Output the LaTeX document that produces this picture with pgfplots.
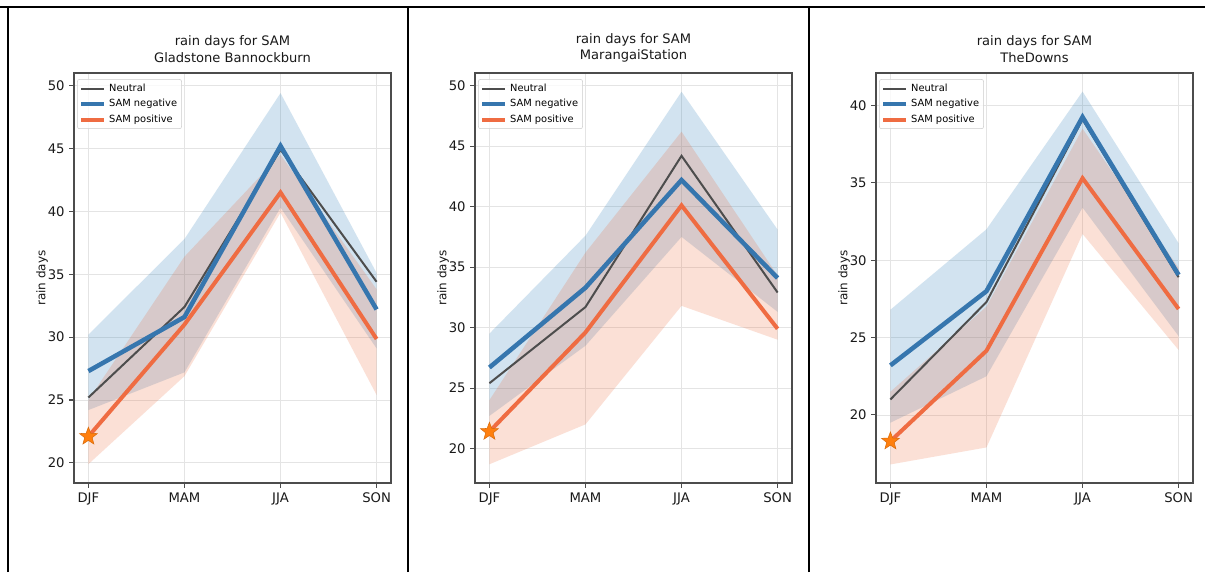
\documentclass[border=0pt]{standalone}
\usepackage{fontspec}
\setmainfont{DejaVu Sans}
\usepackage{pgfplots}
\pgfplotsset{compat=1.18}
\definecolor{negc}{HTML}{3676AE}
\definecolor{posc}{HTML}{EF6C42}
\definecolor{neuc}{HTML}{4D4D4D}
\definecolor{negband}{HTML}{1F77B4}
\definecolor{posband}{HTML}{EB6432}
\definecolor{starc}{HTML}{FF7F0E}
\definecolor{gridc}{HTML}{E4E4E4}
\pgfdeclareplotmark{fstar}{%
\pgfpathmoveto{\pgfpointpolar{90}{\pgfplotmarksize}}%
\pgfpathlineto{\pgfpointpolar{126}{0.42\pgfplotmarksize}}%
\pgfpathlineto{\pgfpointpolar{162}{\pgfplotmarksize}}%
\pgfpathlineto{\pgfpointpolar{198}{0.42\pgfplotmarksize}}%
\pgfpathlineto{\pgfpointpolar{234}{\pgfplotmarksize}}%
\pgfpathlineto{\pgfpointpolar{270}{0.42\pgfplotmarksize}}%
\pgfpathlineto{\pgfpointpolar{306}{\pgfplotmarksize}}%
\pgfpathlineto{\pgfpointpolar{342}{0.42\pgfplotmarksize}}%
\pgfpathlineto{\pgfpointpolar{18}{\pgfplotmarksize}}%
\pgfpathlineto{\pgfpointpolar{54}{0.42\pgfplotmarksize}}%
\pgfpathclose
\pgfusepathqfillstroke}
\pgfplotsset{
  panel/.style={
    at={#1}, anchor=south west, scale only axis,
    width=237.75pt, height=307.5pt,
    xmin=-0.15, xmax=3.15,
    xtick={0,1,2,3}, xticklabels={DJF,MAM,JJA,SON},
    grid=major, major grid style={draw=gridc, line width=0.6pt},
    axis line style={draw=black!70, line width=0.8pt},
    tick align=outside, major tick length=3.5pt,
    xtick pos=bottom, ytick pos=left,
    tick style={draw=black!70, line width=0.8pt},
    ticklabel style={font=\fontsize{9.9}{11}\selectfont, text=black!90},
    /pgf/number format/assume math mode=true,
    ylabel={rain days},
    ylabel style={font=\fontsize{9}{10}\selectfont, text=black!90, at={(axis description cs:-0.101,0.5)}, anchor=center},
    title style={font=\fontsize{9.8}{12.2}\selectfont, text=black!90, align=center, yshift=-1.5pt},
    legend cell align=left,
    legend style={at={(0.01,0.985)}, anchor=north west, draw=black!20, rounded corners=1.5pt,
      fill=white, fill opacity=0.8, text opacity=1, font=\fontsize{7.4}{8.4}\selectfont,
      inner sep=1.3pt, row sep=0.5pt},
  },
  negband/.style={draw=none, fill=negband, fill opacity=0.2, forget plot},
  posband/.style={draw=none, fill=posband, fill opacity=0.2, forget plot},
  neul/.style={neuc, line width=1.5pt, no markers},
  negl/.style={negc, line width=3.4pt, no markers},
  posl/.style={posc, line width=3.0pt, no markers},
  starm/.style={only marks, mark=fstar, mark size=7pt, mark options={draw=starc!85!black, fill=starc, line width=0.4pt}, forget plot},
}
\begin{document}
\begin{tikzpicture}
\useasboundingbox (0,0) rectangle (903.75pt,429pt);
\fill[white] (0,0) rectangle (903.75pt,429pt);
\draw[line width=0.9pt] (0,423.75pt) -- (903.75pt,423.75pt);
\draw[line width=0.9pt] (6pt,0) -- (6pt,423.75pt);
\draw[line width=0.9pt] (306pt,0) -- (306pt,423.75pt);
\draw[line width=0.9pt] (606.75pt,0) -- (606.75pt,423.75pt);

% Panel 1
\begin{axis}[panel={(55.5pt,66.75pt)}, ymin=18.4, ymax=51.0,
  ytick={20,25,30,35,40,45,50},
  title={rain days for SAM\\Gladstone Bannockburn}]
\addplot[negband] coordinates {(0,30.2)(1,37.8)(2,49.4)(3,35.1)(3,29.1)(2,40.3)(1,27.2)(0,24.2)} -- cycle;
\addplot[posband] coordinates {(0,25.0)(1,36.4)(2,44.5)(3,33.8)(3,25.4)(2,39.9)(1,26.9)(0,19.9)} -- cycle;
\addplot[neul] coordinates {(0,25.2)(1,32.4)(2,44.9)(3,34.4)};
\addlegendentry{Neutral}
\addplot[negl] coordinates {(0,27.3)(1,31.6)(2,45.2)(3,32.2)};
\addlegendentry{SAM negative}
\addplot[posl] coordinates {(0,22.1)(1,31.0)(2,41.5)(3,29.85)};
\addlegendentry{SAM positive}
\addplot[starm] coordinates {(0,22.1)};
\end{axis}

% Panel 2
\begin{axis}[panel={(356.25pt,66.75pt)}, ymin=17.15, ymax=51.05,
  ytick={20,25,30,35,40,45,50},
  title={rain days for SAM\\MarangaiStation}]
\addplot[negband] coordinates {(0,29.5)(1,37.6)(2,49.5)(3,38.1)(3,31.3)(2,37.5)(1,28.5)(0,22.7)} -- cycle;
\addplot[posband] coordinates {(0,24.0)(1,36.2)(2,46.2)(3,34.3)(3,29.0)(2,31.8)(1,22.0)(0,18.7)} -- cycle;
\addplot[neul] coordinates {(0,25.4)(1,31.7)(2,44.2)(3,32.9)};
\addlegendentry{Neutral}
\addplot[negl] coordinates {(0,26.7)(1,33.3)(2,42.2)(3,34.1)};
\addlegendentry{SAM negative}
\addplot[posl] coordinates {(0,21.4)(1,29.6)(2,40.1)(3,29.9)};
\addlegendentry{SAM positive}
\addplot[starm] coordinates {(0,21.4)};
\end{axis}

% Panel 3
\begin{axis}[panel={(657pt,66.75pt)}, ymin=15.6, ymax=42.1,
  ytick={20,25,30,35,40},
  title={rain days for SAM\\TheDowns}]
\addplot[negband] coordinates {(0,26.8)(1,32.0)(2,40.9)(3,31.1)(3,25.1)(2,33.4)(1,22.5)(0,19.5)} -- cycle;
\addplot[posband] coordinates {(0,21.5)(1,27.0)(2,38.5)(3,29.5)(3,24.2)(2,31.7)(1,17.9)(0,16.8)} -- cycle;
\addplot[neul] coordinates {(0,21.0)(1,27.3)(2,39.1)(3,28.9)};
\addlegendentry{Neutral}
\addplot[negl] coordinates {(0,23.2)(1,28.0)(2,39.25)(3,29.05)};
\addlegendentry{SAM negative}
\addplot[posl] coordinates {(0,18.3)(1,24.15)(2,35.3)(3,26.85)};
\addlegendentry{SAM positive}
\addplot[starm] coordinates {(0,18.3)};
\end{axis}
\end{tikzpicture}
\end{document}
